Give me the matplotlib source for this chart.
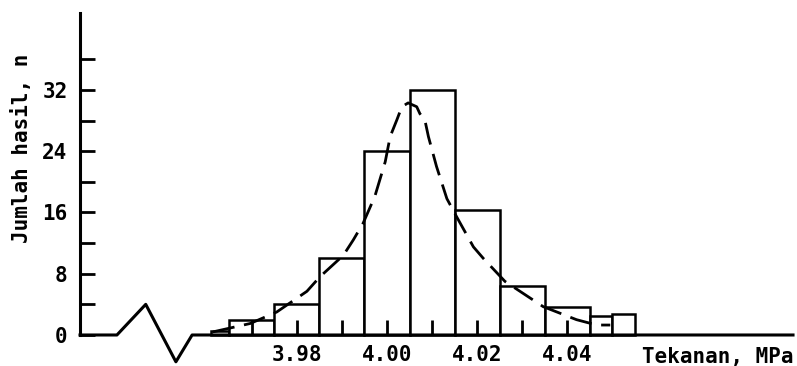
import matplotlib.pyplot as plt

# histogram data (bin left edge, width, count)
kiri = [3.961, 3.965, 3.975, 3.985, 3.995, 4.005, 4.015, 4.025, 4.035, 4.045, 4.050]
lebar = [0.004, 0.01, 0.01, 0.01, 0.01, 0.01, 0.01, 0.01, 0.01, 0.005, 0.005]
jumlah = [0.5, 2, 4, 10, 24, 32, 16.3, 6.4, 3.7, 2.5, 2.7]

# dashed distribution curve
kurva_x = [3.9613, 3.9696, 3.9755, 3.9822, 3.9851, 3.9903, 3.9925, 3.9947, 3.9973,
           3.9996, 4.0007, 4.0022, 4.0033, 4.0047, 4.0066, 4.0073, 4.0084, 4.0092,
           4.0110, 4.0133, 4.0155, 4.0192, 4.0214, 4.0262, 4.0347, 4.0421, 4.0466, 4.0496]
kurva_y = [0.4, 1.5, 3.0, 5.7, 7.6, 10.4, 12.4, 14.6, 18.1,
           22.6, 25.9, 28.1, 29.8, 30.3, 29.8, 28.9, 28.1, 25.9,
           22.0, 17.8, 15.4, 11.5, 10.0, 7.0, 3.7, 2.0, 1.3, 1.3]

tick_label = [3.98, 4.00, 4.02, 4.04]
tick_minor = [3.97, 3.99, 4.01, 4.03]
ytick_label = [0, 8, 16, 24, 32]
ytick_minor = [4, 12, 20, 28, 36]

font = {'family': 'DejaVu Sans Mono', 'weight': 'bold', 'size': 15}

fig = plt.figure(figsize=(7.97, 3.66), dpi=100)
ax = fig.add_axes([0.1004, 0.0052, 0.8946, 0.9585])

xmin, xmax = 3.9318, 4.0902
ax.set_xlim(xmin, xmax)
ax.set_ylim(-3.8, 42)
ax.set_axisbelow(False)

ax.bar(kiri, jumlah, width=lebar, align='edge', facecolor='white',
       edgecolor='black', linewidth=1.8, zorder=2)
ax.plot(kurva_x, kurva_y, color='black', linewidth=2.0, dashes=(8, 3.5), zorder=3)

# x axis with a break (zigzag) near the origin
break_x = [xmin, 3.9400, 3.9464, 3.9531, 3.9567, xmax]
break_y = [0, 0, 4.0, -3.5, 0, 0]
ax.plot(break_x, break_y, color='black', linewidth=2.2, clip_on=False, zorder=4)

for s in ['top', 'right']:
    ax.spines[s].set_visible(False)
ax.spines['bottom'].set_position(('data', 0))
ax.spines['bottom'].set_linewidth(0)
ax.spines['left'].set_bounds(0, 42)
ax.spines['left'].set_linewidth(2.2)

ax.set_xticks(tick_label)
ax.set_xticklabels(['%.2f' % t for t in tick_label], fontdict=font)
ax.set_xticks(tick_minor, minor=True)
ax.set_yticks(ytick_label)
ax.set_yticklabels([str(t) for t in ytick_label], fontdict=font)
ax.set_yticks(ytick_minor, minor=True)
ax.tick_params(which='both', direction='in', length=10.8, width=2.0, color='black')
ax.tick_params(axis='x', which='both', pad=7)
ax.tick_params(axis='y', which='both', pad=9)

ax.text(4.0902, -1.6, 'Tekanan, MPa', ha='right', va='top', fontdict=font)
fig.text(0.0276, 0.596, 'Jumlah hasil, n', rotation=90, ha='center', va='center',
         fontdict=font)

fig.savefig('out.png', dpi=100)
